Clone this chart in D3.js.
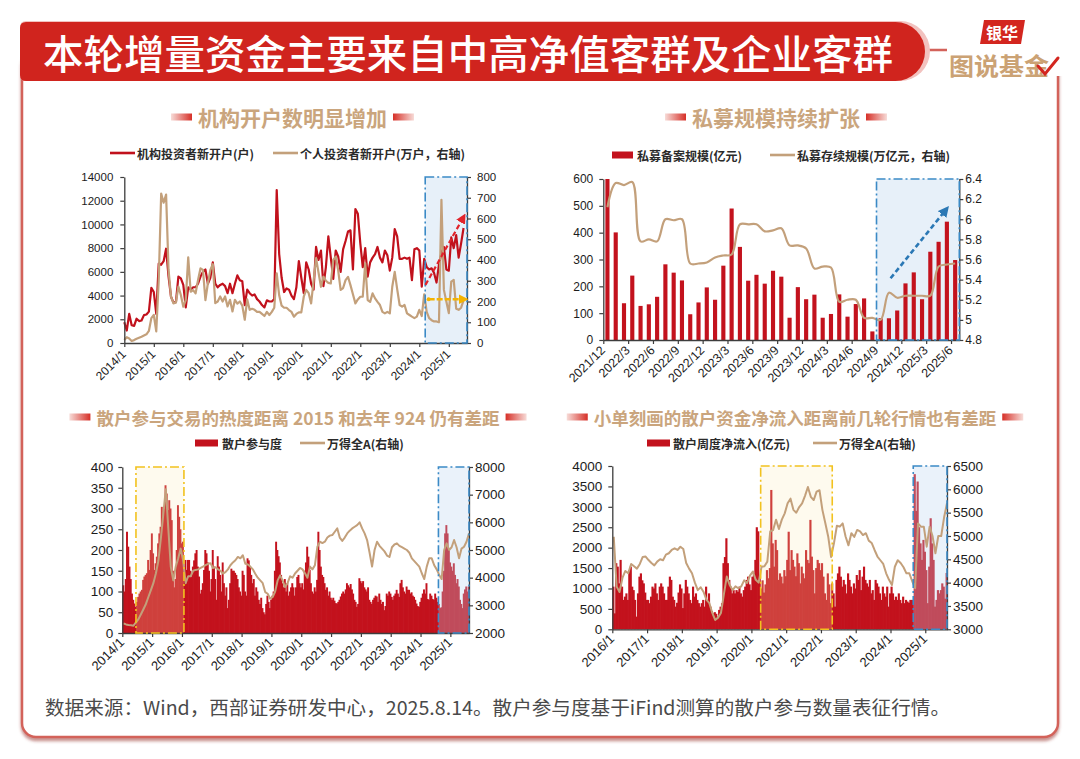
<!DOCTYPE html>
<html><head><meta charset="utf-8">
<script src="https://cdn.jsdelivr.net/npm/d3@7/dist/d3.min.js"></script>
<style>
html,body{margin:0;padding:0;background:#fff;}
svg{display:block;}
</style></head>
<body>
<svg id="chart" width="1080" height="759"></svg>
<script>
// ================= DATA =================
// Panel 1: monthly 2014/1 - 2025/7
const p1Ticks = ["2014/1","2015/1","2016/1","2017/1","2018/1","2019/1","2020/1","2021/1","2022/1","2023/1","2024/1","2025/1"];
const p1LeftTicks = [0,2000,4000,6000,8000,10000,12000,14000];
const p1RightTicks = [0,100,200,300,400,500,600,700,800];
const p1Inst = [1750,1050,2450,1500,1450,2050,1850,1900,2350,2400,2650,4650,
 4300,2450,6700,6600,6900,7950,5600,3900,3400,3450,5600,5450,
 4900,3000,4700,4500,4700,4700,5000,5600,6000,6200,5000,5500,
 6800,5000,4700,4900,5000,4800,4200,5000,4200,5000,5700,5300,
 5200,3200,4500,4200,4000,4100,3700,3500,3200,3000,3600,3500,
 3500,3700,12900,7500,5500,4300,4600,4500,4000,3700,4700,6900,
 5500,4200,6800,6200,5000,4500,8100,7000,7800,4800,6400,9000,
 7200,5400,7800,7300,6000,7900,8600,9400,9500,6200,11300,10900,
 8400,6400,8000,5600,6800,7200,7500,8100,7200,6800,7800,7400,
 6100,7200,9600,9000,7100,7100,7200,7100,7200,5300,7900,8000,
 7800,4750,7100,6400,6200,6300,5900,5100,6600,7600,8100,6200,
 6100,8900,8000,9100,7200,8400,9700];
const p1Indiv = [15,28,22,10,14,20,25,30,36,42,58,120,
 135,56,300,720,676,715,352,223,191,195,272,231,
 175,207,413,247,255,239,304,360,352,207,288,352,
 380,192,200,224,200,224,176,208,152,208,190,200,
 180,112,210,160,165,160,150,150,140,130,150,135,
 150,170,336,230,180,170,170,159,150,127,140,148,
 148,223,256,240,191,300,409,340,271,320,300,290,
 287,400,416,350,256,265,303,319,279,235,191,210,
 223,223,384,207,198,239,215,198,183,150,143,150,
 143,271,343,260,183,175,183,143,135,127,120,127,
 160,130,235,150,120,110,104,104,100,690,256,200,
 144,296,304,165,160,170,205];
const p1BlueRange = [122.4, 139.4];
const p1ArrowInst = [[122.5,4900],[138.2,10700]];
const p1ArrowIndiv = [[123.8,211],[138.8,211]];

// Panel 2: monthly 2021/12 - 2025/6
const p2Ticks = ["2021/12","2022/3","2022/6","2022/9","2022/12","2023/3","2023/6","2023/9","2023/12","2024/3","2024/6","2024/9","2024/12","2025/3","2025/6"];
const p2LeftTicks = [0,100,200,300,400,500,600];
const p2RightTicks = [4.8,5,5.2,5.4,5.6,5.8,6,6.2,6.4];
const p2Filed = [600,401,137,240,127,133,161,282,251,222,96,140,196,150,277,490,347,221,243,210,258,236,83,197,152,169,83,97,170,87,134,155,32,81,81,110,211,252,152,329,366,441,298];
const p2Stock = [6.12,6.36,6.34,6.37,5.78,5.80,5.78,6.00,5.99,6.00,5.56,5.56,5.57,5.62,5.64,5.65,5.95,5.95,5.95,5.88,5.89,5.91,5.74,5.74,5.71,5.51,5.53,5.52,5.18,5.20,5.20,5.02,5.02,5.00,5.27,5.22,5.24,5.24,5.24,5.24,5.53,5.55,5.56];
const p2BlueRange = [33, 43];
const p2Arrow = [[34.7,230],[41.5,490]];

// Panel 3: half-monthly participation 2014/1 - 2025/8, monthly index
const p3Ticks = ["2014/1","2015/1","2016/1","2017/1","2018/1","2019/1","2020/1","2021/1","2022/1","2023/1","2024/1","2025/1"];
const p3LeftTicks = [0,50,100,150,200,250,300,350,400];
const p3RightTicks = [2000,3000,4000,5000,6000,7000,8000];
const p3Retail = [
 115,100,130,244,208,160,130,95,80,71,63,75,87,95,100,104,128,136,140,144,176,152,200,240,
 192,152,168,184,216,240,256,304,280,300,356,336,296,320,300,272,150,110,130,200,308,280,250,216,
 220,160,176,152,176,176,150,136,160,175,192,200,160,136,95,104,120,152,200,192,170,150,100,130,
 200,160,130,80,185,160,140,100,170,120,90,110,60,80,120,155,150,150,145,140,130,110,100,90,
 150,140,100,90,180,175,160,140,120,130,90,110,100,80,70,85,60,50,45,70,90,75,60,80,
 90,100,150,220,200,185,170,140,120,110,130,100,120,90,100,110,120,110,90,110,135,140,120,110,
 120,105,150,170,208,184,152,120,100,95,110,100,128,244,200,160,140,135,120,104,110,90,100,85,
 80,85,78,72,71,75,80,88,95,100,95,105,120,115,110,118,105,95,80,75,63,70,132,125,
 120,125,110,105,100,110,80,75,70,80,85,90,88,75,95,80,70,75,55,65,95,90,100,95,
 87,80,90,95,104,95,87,120,128,110,100,95,112,104,104,95,98,90,87,80,71,65,63,75,
 85,95,105,95,120,82,80,95,90,82,80,95,85,75,70,60,62,100,150,240,260,240,200,170,
 160,150,168,140,120,130,112,80,70,60,95,105,112,100,112];
const p3Index = [2350,2310,2290,2280,2265,2380,2500,2680,2860,3050,3300,3550,
 3800,4150,4600,5400,6300,7200,5800,4400,3900,4400,4700,5050,
 4600,3800,4050,4050,4250,4280,4300,4350,4400,4450,4500,4520,
 4350,4380,4300,4250,4150,4200,4300,4450,4550,4630,4750,4700,
 4810,4500,4480,4400,4300,4145,4000,3900,3800,3480,3420,3240,
 3300,3500,3900,4085,3900,3660,3800,4050,4000,4150,4250,4350,
 4300,4160,4000,4400,4300,4450,5120,5300,5250,5300,5450,5520,
 5540,5660,5780,5450,5330,5450,5600,5700,5780,5840,5900,6000,
 5780,5600,5360,4900,4400,5000,5300,5150,5050,4950,4800,4750,
 5100,5200,5240,5150,5100,5050,5000,4900,4700,4600,4500,4400,
 4160,3950,4400,4700,4700,4450,4300,4100,3950,5000,5240,5000,
 5100,5360,5100,4700,5050,5120,5300,5600];
const p3YellowRange = [11, 49.6];
const p3BlueRange = [254.4, 279];

// Panel 4: half-monthly net inflow 2016/1 - 2025/8, monthly index
const p4Ticks = ["2016/1","2017/1","2018/1","2019/1","2020/1","2021/1","2022/1","2023/1","2024/1","2025/1"];
const p4LeftTicks = [0,500,1000,1500,2000,2500,3000,3500,4000];
const p4RightTicks = [3000,3500,4000,4500,5000,5500,6000,6500];
const p4Flow = [
 1045,390,1620,1535,1125,1700,1045,720,800,880,720,1450,1535,1045,960,720,310,880,1290,1370,1200,1125,900,720,
 720,640,800,1045,1000,1125,880,720,1045,1125,1045,880,720,720,1045,1290,1210,800,720,555,650,900,1100,1000,
 520,880,1210,1045,880,720,640,1045,800,880,720,640,555,640,720,555,1045,720,880,555,450,390,420,380,
 310,475,555,640,1620,1770,2230,1620,1210,1045,880,960,880,960,920,1045,880,800,960,1045,1210,1290,1100,960,
 1290,1370,1700,2500,2400,1300,1000,1200,900,1100,1450,1250,1500,3413,2105,1535,2190,1940,1210,1370,1290,1125,1450,1300,
 1700,2390,1450,1940,1700,1535,1300,1860,1620,1125,1535,1370,1250,1940,1700,1620,2680,1780,1450,880,1500,1700,1620,1450,
 1620,1290,880,720,1370,1100,640,1125,880,555,1210,1370,1535,1290,1045,1210,1100,880,1370,1210,1045,880,1125,1000,
 1330,1210,1450,960,1290,1535,1210,1125,1045,1210,880,960,720,1210,1125,1045,880,720,1045,880,800,1045,555,880,
 1045,880,720,800,720,880,720,640,800,640,720,680,650,720,720,700,3800,2900,3620,2500,2105,1700,2190,1900,
 1450,640,1535,2720,2105,1700,555,720,960,880,960,1125,1045,750,1380];
const p4Index = [4985,3915,3800,4100,4250,4200,4400,4350,4300,4400,4550,4560,
 4485,4420,4370,4450,4500,4480,4600,4630,4700,4735,4700,4770,
 4720,4420,4300,4200,4000,3840,3900,3800,3630,3560,3350,3200,
 3250,3350,3750,4130,3950,3840,3920,3880,3920,4050,3990,4150,
 4240,4060,4000,4340,4350,4450,5100,5128,5350,5150,5350,5485,
 5700,5800,5560,5500,5620,5700,5860,6050,5840,5770,5950,5980,
 5560,5280,4990,4550,4850,5220,5200,5270,4990,4800,5060,4980,
 5130,5100,5020,5060,4900,4850,4700,4560,4480,4400,4200,4060,
 3950,4340,4480,4420,4330,4200,4200,4030,3880,5270,5200,5200,
 4770,5200,5000,4630,5000,5000,5400,5700];
const p4YellowRange = [102.4, 151.8];
const p4BlueRange = [207.7, 231];

// ================= DRAW =================
const CJK = '"Noto Sans CJK SC","Noto Sans",sans-serif';
const NUM = '"Liberation Sans",Arial,sans-serif';
const RED = '#c1111c', BAR = '#c3121d', TAN = '#c3a07b', TTAN = '#caa57d', AXIS = '#3d3d3d';
const svg = d3.select('#chart');
const defs = svg.append('defs');

const flt = defs.append('filter').attr('id','sh').attr('x','-5%').attr('y','-5%').attr('width','110%').attr('height','115%');
flt.append('feDropShadow').attr('dx',0).attr('dy',3).attr('stdDeviation',1.4).attr('flood-color','#9b3b35').attr('flood-opacity',0.55);

const gl = defs.append('linearGradient').attr('id','decoL');
gl.append('stop').attr('offset','0%').attr('stop-color','#f7dcd8');
gl.append('stop').attr('offset','100%').attr('stop-color','#d62f27');
const gr = defs.append('linearGradient').attr('id','decoR');
gr.append('stop').attr('offset','0%').attr('stop-color','#d62f27');
gr.append('stop').attr('offset','100%').attr('stop-color','#f7dcd8');

function marker(id, color, size){
  defs.append('marker').attr('id',id).attr('viewBox','0 0 10 10').attr('refX',7).attr('refY',5)
    .attr('markerWidth',size).attr('markerHeight',size).attr('orient','auto').attr('markerUnits','userSpaceOnUse')
    .append('path').attr('d','M0,0 L10,5 L0,10 z').attr('fill',color);
}
marker('arRed','#e1242b',10); marker('arYel','#f4b300',10); marker('arBlue','#2b78b5',11);

// card
svg.append('rect').attr('x',22).attr('y',50).attr('width',1036).attr('height',687).attr('rx',14)
  .attr('fill','#fff').attr('stroke','#d3625a').attr('stroke-width',2.5).attr('filter','url(#sh)');
svg.append('rect').attr('x',947).attr('y',6).attr('width',130).attr('height',70).attr('fill','#fff');

// banner
function bannerPath(x,y,xe,h){ const r=h/2, rl=6;
  return `M${x+rl},${y} H${xe-r} A${r},${r} 0 0 1 ${xe-r},${y+h} H${x+rl} Q${x},${y+h} ${x},${y+h-rl} V${y+rl} Q${x},${y} ${x+rl},${y} Z`; }
svg.append('path').attr('d',bannerPath(20,21,930,60)).attr('fill','#f2c2bf');
svg.append('path').attr('d',bannerPath(20,22,925,59)).attr('fill','#d0241e');
svg.append('text').attr('x',468).attr('y',52).attr('text-anchor','middle').attr('dominant-baseline','central')
  .attr('fill','#fff').style('font-family',CJK).style('font-size','40px').style('font-weight',500)
  .attr('textLength',850).attr('lengthAdjust','spacingAndGlyphs').text('本轮增量资金主要来自中高净值客群及企业客群');

// logo
svg.append('path').attr('d','M984,20 L1025,20 L1021,44 L980,44 Z').attr('fill','#d3261f');
svg.append('text').attr('x',1002).attr('y',32).attr('text-anchor','middle').attr('dominant-baseline','central')
  .attr('fill','#fff').style('font-family',CJK).style('font-size','16px').style('font-weight',700).text('银华');
svg.append('text').attr('x',999).attr('y',64).attr('text-anchor','middle').attr('dominant-baseline','central')
  .attr('fill','#cba274').style('font-family',CJK).style('font-size','24px').style('font-weight',700)
  .attr('textLength',100).attr('lengthAdjust','spacingAndGlyphs').text('图说基金');
svg.append('path').attr('d','M1038,66 L1045,74 L1058,58').attr('fill','none').attr('stroke','#d3261f').attr('stroke-width',3).attr('stroke-linecap','round');

// footer
svg.append('text').attr('x',45).attr('y',706).attr('dominant-baseline','central').attr('fill','#4a4a4a')
  .style('font-family',CJK).style('font-size','19px').attr('textLength',905).attr('lengthAdjust','spacingAndGlyphs')
  .text('数据来源：Wind，西部证券研发中心，2025.8.14。散户参与度基于iFind测算的散户参与数量表征行情。');

// helpers
function panelTitle(text, cx, cy, size){
  const t = svg.append('text').attr('x',cx).attr('y',cy).attr('text-anchor','middle').attr('dominant-baseline','central')
    .attr('fill',TTAN).style('font-family',CJK).style('font-size',size+'px').style('font-weight',700).text(text);
  const w = t.node().getComputedTextLength();
  svg.append('rect').attr('x',cx-w/2-6-21).attr('y',cy-3.5).attr('width',21).attr('height',7).attr('fill','url(#decoL)');
  svg.append('rect').attr('x',cx+w/2+6).attr('y',cy-3.5).attr('width',21).attr('height',7).attr('fill','url(#decoR)');
}
function legLine(x1,x2,y,color){ svg.append('line').attr('x1',x1).attr('x2',x2).attr('y1',y).attr('y2',y).attr('stroke',color).attr('stroke-width',2.6); }
function legRect(x1,x2,y,color){ svg.append('rect').attr('x',x1).attr('y',y-3.5).attr('width',x2-x1).attr('height',7).attr('fill',color); }
function legText(x,y,t){ svg.append('text').attr('x',x).attr('y',y).attr('dominant-baseline','central')
  .style('font-family',CJK).style('font-size','12px').style('font-weight',700).attr('fill','#2a2a2a').text(t); }
function styleAxis(g, fs){
  g.select('.domain').attr('stroke',AXIS).attr('stroke-width',1.3);
  g.selectAll('.tick line').attr('stroke',AXIS).attr('stroke-width',1.2);
  g.selectAll('.tick text').attr('fill','#1c1c1c').style('font-family',NUM).style('font-size',fs+'px');
}
function yAxis(scale, ticks, x, side, pad, fs, fmt){
  const a = (side==='left'?d3.axisLeft(scale):d3.axisRight(scale)).tickValues(ticks).tickSize(4).tickSizeOuter(0)
    .tickPadding(pad).tickFormat(fmt||d3.format('d'));
  const g = svg.append('g').attr('transform',`translate(${x},0)`).call(a);
  styleAxis(g, fs);
}
function xAxis(scale, vals, labels, y, fs, off){
  const a = d3.axisBottom(scale).tickValues(vals).tickFormat((d,i)=>labels[i]).tickSize(4).tickSizeOuter(0);
  const g = svg.append('g').attr('transform',`translate(0,${y})`).call(a);
  styleAxis(g, fs);
  g.selectAll('.tick text').attr('x',0).attr('y',0).attr('dy','0.35em')
    .attr('transform',`translate(-1,${off}) rotate(-45)`).style('text-anchor','end');
}
function boxBorder(x0,y0,x1,y1,color){
  svg.append('rect').attr('x',x0).attr('y',y0).attr('width',x1-x0).attr('height',y1-y0)
    .attr('fill','none').attr('stroke',color).attr('stroke-width',1.6).attr('stroke-dasharray','9,3,2,3');
}
function boxFill(x0,y0,x1,y1,color,op){
  svg.append('rect').attr('x',x0).attr('y',y0).attr('width',x1-x0).attr('height',y1-y0).attr('fill',color).attr('fill-opacity',op);
}

// ---------- Panel 1 ----------
panelTitle('机构开户数明显增加', 292.5, 117, 21);
legLine(110,135,153,RED); legText(137,153,'机构投资者新开户(户)');
legLine(273,298,153,TAN); legText(300,153,'个人投资者新开户(万户，右轴)');
const x1 = d3.scaleLinear().domain([0,139.4]).range([124.3,467]);
const y1L = d3.scaleLinear().domain([0,14000]).range([343,177]);
const y1R = d3.scaleLinear().domain([0,800]).range([343,177]);
boxFill(x1(p1BlueRange[0]),y1L(14000),x1(p1BlueRange[1]),y1L(0),'#e7f0f9',1);
svg.append('path').datum(p1Inst).attr('d',d3.line().x((d,i)=>x1(i)).y(d=>y1L(d)))
  .attr('fill','none').attr('stroke',RED).attr('stroke-width',2.2).attr('stroke-linejoin','round');
svg.append('path').datum(p1Indiv).attr('d',d3.line().x((d,i)=>x1(i)).y(d=>y1R(d)))
  .attr('fill','none').attr('stroke',TAN).attr('stroke-width',2.2).attr('stroke-linejoin','round');
yAxis(y1L,p1LeftTicks,124.3,'left',7,11.5);
yAxis(y1R,p1RightTicks,467,'right',6,11.5);
xAxis(x1,p1Ticks.map((_,i)=>i*12),p1Ticks,343,12,9);
boxBorder(x1(p1BlueRange[0]),y1L(14000),x1(p1BlueRange[1]),y1L(0),'#3b8ac6');
svg.append('line').attr('x1',x1(p1ArrowInst[0][0])).attr('y1',y1L(p1ArrowInst[0][1]))
  .attr('x2',x1(p1ArrowInst[1][0])).attr('y2',y1L(p1ArrowInst[1][1]))
  .attr('stroke','#e1242b').attr('stroke-width',2.2).attr('stroke-dasharray','5,3').attr('marker-end','url(#arRed)');
svg.append('circle').attr('cx',x1(p1ArrowIndiv[0][0])).attr('cy',y1R(p1ArrowIndiv[0][1])).attr('r',2).attr('fill','#f4b300');
svg.append('line').attr('x1',x1(p1ArrowIndiv[0][0])).attr('y1',y1R(p1ArrowIndiv[0][1]))
  .attr('x2',x1(p1ArrowIndiv[1][0])).attr('y2',y1R(p1ArrowIndiv[1][1]))
  .attr('stroke','#f4b300').attr('stroke-width',2.4).attr('stroke-dasharray','6,2').attr('marker-end','url(#arYel)');

// ---------- Panel 2 ----------
panelTitle('私募规模持续扩张', 776, 117, 21);
legRect(612,633,155,BAR); legText(637,155,'私募备案规模(亿元)');
legLine(770,795,155,TAN); legText(797,155,'私募存续规模(万亿元，右轴)');
const xb2 = d3.scaleBand().domain(d3.range(p2Filed.length)).range([603.3,959.3]).paddingInner(0.5).paddingOuter(0.25);
const xt2 = d3.scaleLinear().domain([0,p2Filed.length]).range([603.3,959.3]);
const y2L = d3.scaleLinear().domain([0,600]).range([340,179]);
const y2R = d3.scaleLinear().domain([4.8,6.4]).range([340,179]);
boxFill(xt2(p2BlueRange[0]),y2L(600),xt2(p2BlueRange[1]),y2L(0),'#e7f0f9',1);
svg.append('g').selectAll('rect').data(p2Filed).join('rect')
  .attr('x',(d,i)=>xb2(i)).attr('y',d=>y2L(d)).attr('width',xb2.bandwidth()).attr('height',d=>y2L(0)-y2L(d)).attr('fill',BAR);
svg.append('path').datum(p2Stock).attr('d',d3.line().curve(d3.curveCatmullRom.alpha(0.5)).x((d,i)=>xb2(i)+xb2.bandwidth()/2).y(d=>y2R(d)))
  .attr('fill','none').attr('stroke',TAN).attr('stroke-width',2.2);
yAxis(y2L,p2LeftTicks,603.3,'left',6,12);
yAxis(y2R,p2RightTicks,959.3,'right',2,12,d3.format('~g'));
xAxis(xt2,p2Ticks.map((_,i)=>i*3),p2Ticks,340,12.5,8);
boxBorder(xt2(p2BlueRange[0]),y2L(600),xt2(p2BlueRange[1]),y2L(0),'#3b8ac6');
svg.append('line').attr('x1',xt2(p2Arrow[0][0])).attr('y1',y2L(p2Arrow[0][1]))
  .attr('x2',xt2(p2Arrow[1][0])).attr('y2',y2L(p2Arrow[1][1]))
  .attr('stroke','#2b78b5').attr('stroke-width',2.6).attr('stroke-dasharray','5,3').attr('marker-end','url(#arBlue)');

// ---------- Panel 3 ----------
panelTitle('散户参与交易的热度距离 2015 和去年 924 仍有差距', 298, 417, 17.5);
legRect(195,218,443,BAR); legText(222,443,'散户参与度');
legLine(300,325,443,TAN); legText(327,443,'万得全A(右轴)');
const x3 = d3.scaleLinear().domain([0,p3Retail.length]).range([122.3,469]);
const y3L = d3.scaleLinear().domain([0,400]).range([633,467]);
const y3R = d3.scaleLinear().domain([2000,8000]).range([633,467]);
const bw3 = x3(1)-x3(0);
svg.append('g').selectAll('rect').data(p3Retail).join('rect')
  .attr('x',(d,i)=>x3(i)).attr('y',d=>y3L(d)).attr('width',(d,i)=>i===p3Retail.length-1?bw3:bw3+0.7).attr('height',d=>y3L(0)-y3L(d)).attr('fill',BAR);
boxFill(x3(p3YellowRange[0]),y3L(400),x3(p3YellowRange[1]),y3L(0),'#fbe6b0',0.22);
boxFill(x3(p3BlueRange[0]),y3L(400),x3(p3BlueRange[1]),y3L(0),'#b9d4ee',0.3);
svg.append('path').datum(p3Index).attr('d',d3.line().x((d,i)=>x3(2*i+1)).y(d=>y3R(d)))
  .attr('fill','none').attr('stroke',TAN).attr('stroke-width',2).attr('stroke-linejoin','round');
yAxis(y3L,p3LeftTicks,122.3,'left',5,13.5);
yAxis(y3R,p3RightTicks,469,'right',2,13.5);
xAxis(x3,p3Ticks.map((_,i)=>i*24),p3Ticks,633,13,7);
boxBorder(x3(p3YellowRange[0]),y3L(400),x3(p3YellowRange[1]),y3L(0),'#f2c21f');
boxBorder(x3(p3BlueRange[0]),y3L(400),x3(p3BlueRange[1]),y3L(0),'#3b8ac6');

// ---------- Panel 4 ----------
panelTitle('小单刻画的散户资金净流入距离前几轮行情也有差距', 795, 417, 17.5);
legRect(647,670,443,BAR); legText(673,443,'散户周度净流入(亿元)');
legLine(813,837,443,TAN); legText(839,443,'万得全A(右轴)');
const x4 = d3.scaleLinear().domain([0,p4Flow.length]).range([612.3,947]);
const y4L = d3.scaleLinear().domain([0,4000]).range([629.3,466]);
const y4R = d3.scaleLinear().domain([3000,6500]).range([629.3,466]);
const bw4 = x4(1)-x4(0);
svg.append('g').selectAll('rect').data(p4Flow).join('rect')
  .attr('x',(d,i)=>x4(i)).attr('y',d=>y4L(d)).attr('width',(d,i)=>i===p4Flow.length-1?bw4:bw4+0.7).attr('height',d=>y4L(0)-y4L(d)).attr('fill',BAR);
boxFill(x4(p4YellowRange[0]),y4L(4000),x4(p4YellowRange[1]),y4L(0),'#fbe6b0',0.22);
boxFill(x4(p4BlueRange[0]),y4L(4000),x4(p4BlueRange[1]),y4L(0),'#b9d4ee',0.3);
svg.append('path').datum(p4Index).attr('d',d3.line().x((d,i)=>x4(2*i+1)).y(d=>y4R(d)))
  .attr('fill','none').attr('stroke',TAN).attr('stroke-width',2).attr('stroke-linejoin','round');
yAxis(y4L,p4LeftTicks,612.3,'left',6,13.5);
yAxis(y4R,p4RightTicks,947,'right',2,13.5);
xAxis(x4,p4Ticks.map((_,i)=>i*24),p4Ticks,629.3,13,7);
boxBorder(x4(p4YellowRange[0]),y4L(4000),x4(p4YellowRange[1]),y4L(0),'#f2c21f');
boxBorder(x4(p4BlueRange[0]),y4L(4000),x4(p4BlueRange[1]),y4L(0),'#3b8ac6');
</script>
</body></html>
